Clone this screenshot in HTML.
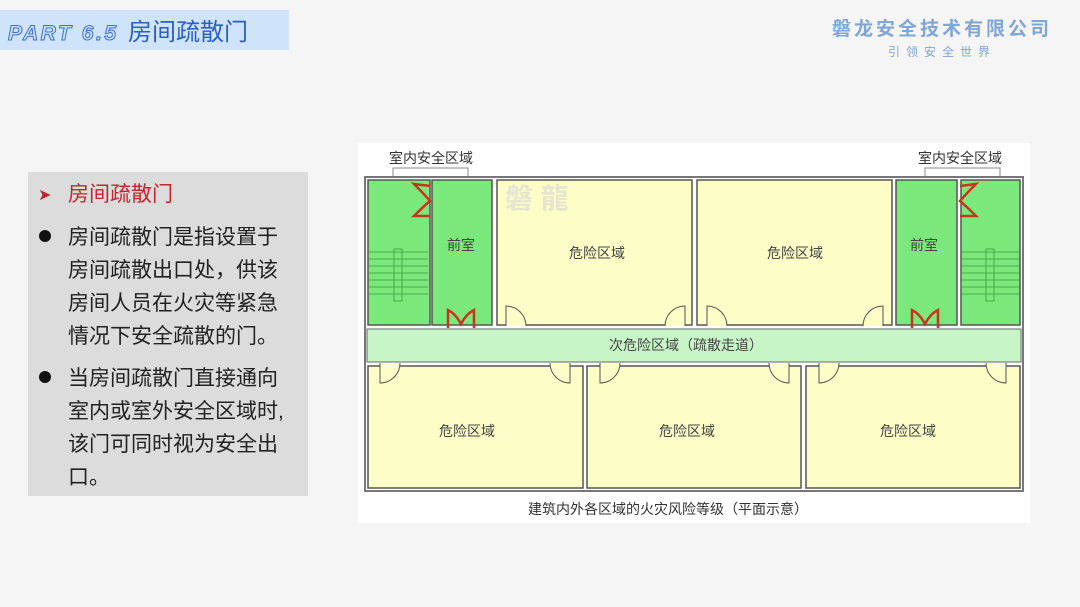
<!DOCTYPE html>
<html><head><meta charset="utf-8"><style>
body{margin:0;width:1080px;height:607px;background:#f5f5f5;overflow:hidden;font-family:"Liberation Sans","Noto Sans CJK SC",sans-serif}
</style></head><body>
<svg width="1080" height="607" xmlns="http://www.w3.org/2000/svg" style="position:absolute;left:0;top:0" font-family="Liberation Sans, Noto Sans CJK SC, sans-serif">
<rect x="0" y="10" width="289" height="40" fill="#cfe3fb"/>
<text x="8" y="40" font-size="21" font-style="italic" font-weight="bold" fill="#cfe3fb" stroke="#3a6fd0" stroke-width="1" textLength="108">PART 6.5</text>
<text x="128" y="40" font-size="24" fill="#2a5fc4">房间疏散门</text>
<text x="942" y="35" font-size="19" fill="#7fa6d8" text-anchor="middle" font-weight="bold" letter-spacing="3">磐龙安全技术有限公司</text>
<text x="942" y="56" font-size="12" fill="#7fa6d8" text-anchor="middle" letter-spacing="6">引领安全世界</text>

<rect x="28" y="172" width="280" height="324" fill="#dcdcdc"/>
<text x="38" y="200" font-size="16" fill="#c0262d">➤</text>
<text x="68" y="201" font-size="21" fill="#c0262d">房间疏散门</text>
<g font-size="21" fill="#222">
<circle cx="45" cy="236" r="6" fill="#111"/>
<text x="68" y="244">房间疏散门是指设置于</text>
<text x="68" y="277">房间疏散出口处，供该</text>
<text x="68" y="310">房间人员在火灾等紧急</text>
<text x="68" y="343">情况下安全疏散的门。</text>
<circle cx="45" cy="377" r="6" fill="#111"/>
<text x="68" y="385">当房间疏散门直接通向</text>
<text x="68" y="418">室内或室外安全区域时,</text>
<text x="68" y="451">该门可同时视为安全出</text>
<text x="68" y="484">口。</text>
</g>

<rect x="358" y="143" width="672" height="380" fill="#fff"/>
<g font-size="14" fill="#333" text-anchor="middle">
<text x="431" y="163">室内安全区域</text>
<text x="960" y="163">室内安全区域</text>
<text x="668" y="514">建筑内外各区域的火灾风险等级（平面示意）</text>
</g>
<g stroke="#888" fill="none" stroke-width="1">
<path d="M393 190 V168 H468 V190"/>
<path d="M925 190 V168 H1000 V190"/>
</g>
<rect x="365" y="177" width="658" height="314" fill="#fff" stroke="#777" stroke-width="2"/>
<g stroke="#555" stroke-width="1.5">
<rect x="368" y="180" width="62" height="145" fill="#7ce87c"/>
<rect x="432" y="180" width="60" height="145" fill="#7ce87c"/>
<rect x="497" y="180" width="195" height="145" fill="#fdfdc8"/>
<rect x="697" y="180" width="195" height="145" fill="#fdfdc8"/>
<rect x="896" y="180" width="61" height="145" fill="#7ce87c"/>
<rect x="961" y="180" width="59" height="145" fill="#7ce87c"/>
<rect x="368" y="366" width="215" height="122" fill="#fdfdc8"/>
<rect x="587" y="366" width="214" height="122" fill="#fdfdc8"/>
<rect x="806" y="366" width="214" height="122" fill="#fdfdc8"/>
</g>
<rect x="367" y="329" width="654" height="33" fill="#c8f5c8" stroke="#666" stroke-width="1"/>
<text x="505" y="208" font-size="28" font-weight="bold" fill="#e6e6d0">磐 龍</text>
<g font-size="14" fill="#444" text-anchor="middle">
<text x="461" y="250">前室</text>
<text x="924" y="250">前室</text>
<text x="597" y="258">危险区域</text>
<text x="795" y="258">危险区域</text>
<text x="686" y="350">次危险区域（疏散走道）</text>
<text x="467" y="436">危险区域</text>
<text x="687" y="436">危险区域</text>
<text x="908" y="436">危险区域</text>
</g>
<g stroke="#3a9a3a" stroke-width="0.8" fill="none">
<path d="M369 252H428M369 259H428M369 266H428M369 273H428M369 280H428M369 287H428M369 294H428"/>
<rect x="394" y="249" width="8" height="52"/>
<path d="M962 252H1019M962 259H1019M962 266H1019M962 273H1019M962 280H1019M962 287H1019M962 294H1019"/>
<rect x="986" y="249" width="8" height="52"/>
</g>
<g stroke="#c8341c" stroke-width="2.5" fill="none">
<path d="M430 186 L414 184 Q426 196 430 201 Q424 206 414 216 L430 216"/>
<path d="M448 328 L448 310 Q456 314 461 324 Q466 314 474 310 L474 328"/>
<path d="M960 186 L976 184 Q964 196 960 201 Q966 206 976 216 L960 216"/>
<path d="M912 328 L912 310 Q920 314 925 324 Q930 314 938 310 L938 328"/>
</g>
<g stroke="#555" stroke-width="1" fill="#fdfdc8">
<path d="M506 326 V306 A20 20 0 0 1 526 326"/>
<path d="M685 326 V306 A20 20 0 0 0 665 326"/>
<path d="M707 326 V306 A20 20 0 0 1 727 326"/>
<path d="M883 326 V306 A20 20 0 0 0 863 326"/>
<path d="M380 363 V383 A20 20 0 0 0 400 363"/>
<path d="M570 363 V383 A20 20 0 0 1 550 363"/>
<path d="M600 363 V383 A20 20 0 0 0 620 363"/>
<path d="M789 363 V383 A20 20 0 0 1 769 363"/>
<path d="M819 363 V383 A20 20 0 0 0 839 363"/>
<path d="M1006 363 V383 A20 20 0 0 1 986 363"/>
</g>
</svg>
</body></html>
